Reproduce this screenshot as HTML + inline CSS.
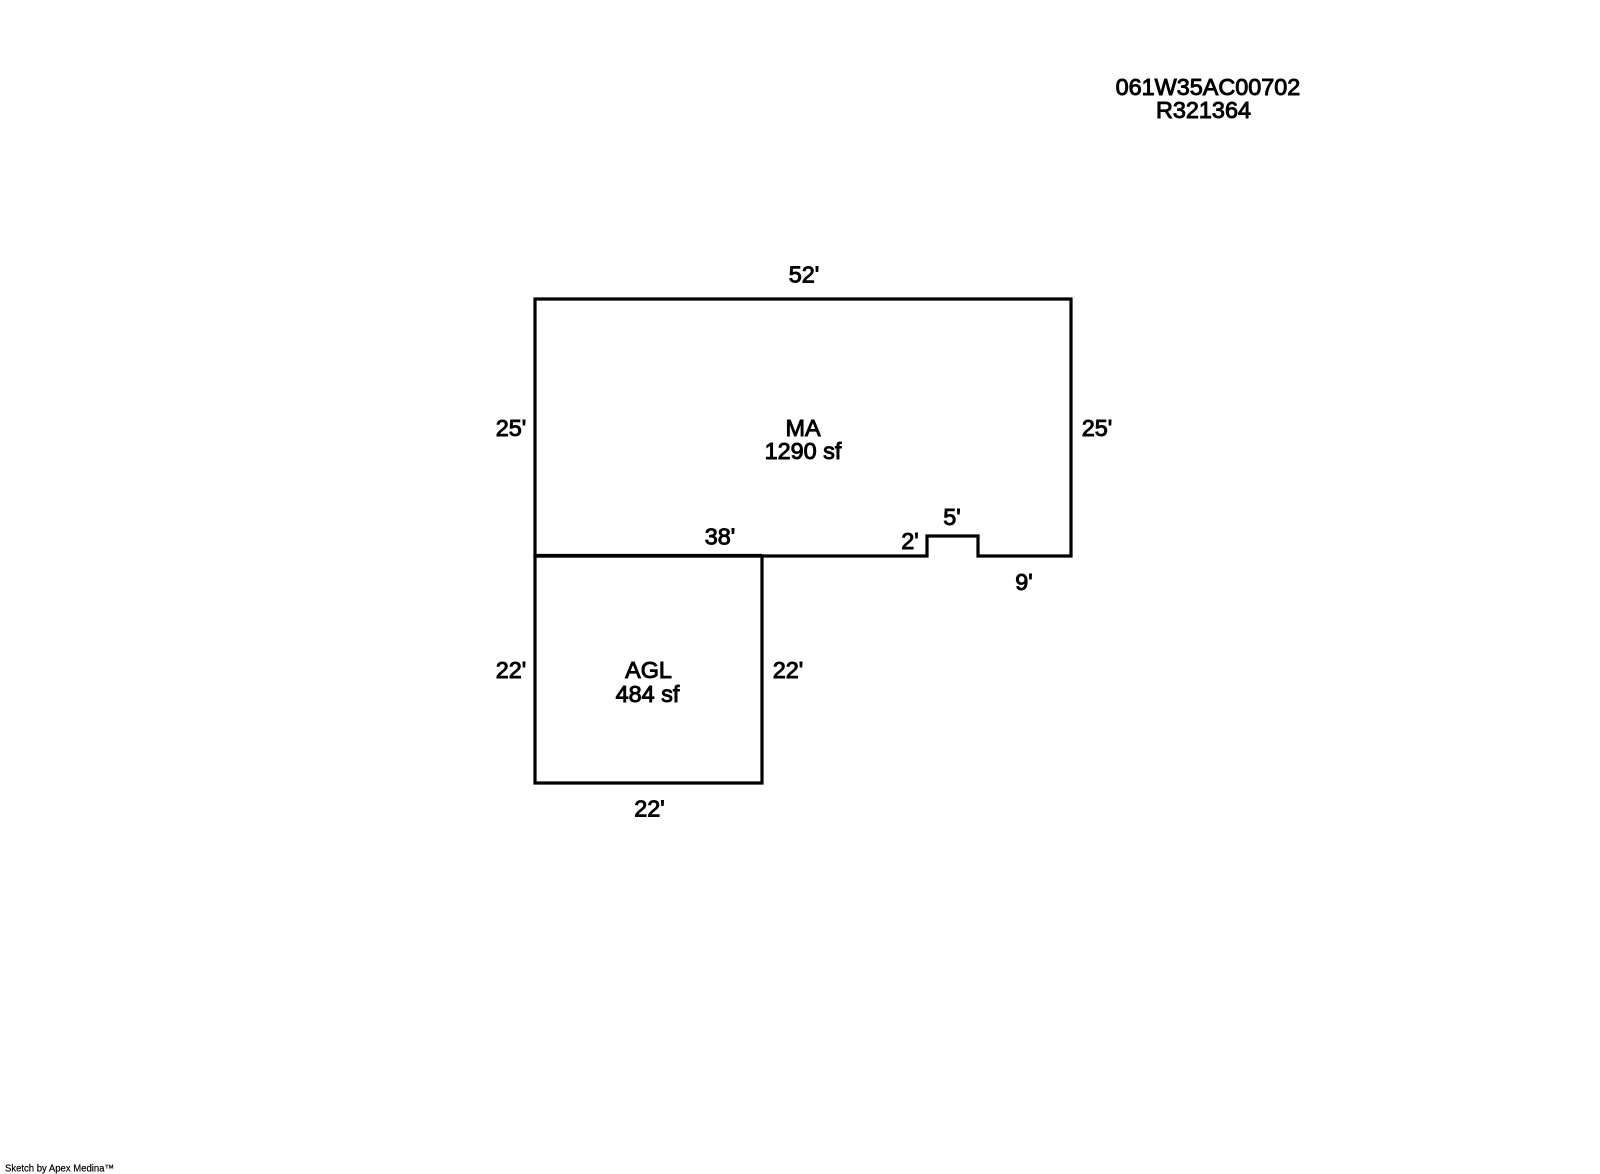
<!DOCTYPE html>
<html>
<head>
<meta charset="utf-8">
<style>
html,body{margin:0;padding:0;background:#fff;width:1600px;height:1174px;overflow:hidden}
svg{display:block}
text{font-family:"Liberation Sans",Arial,sans-serif;fill:#000;stroke:#000;stroke-width:.95px;font-size:23.4px;text-anchor:middle}
.f{font-size:10px;stroke-width:.2px;text-anchor:start}
path{fill:none;stroke:#000;stroke-width:3.2;stroke-linejoin:miter}
</style>
</head>
<body>
<svg width="1600" height="1174" viewBox="0 0 1600 1174" xmlns="http://www.w3.org/2000/svg">
<rect width="1600" height="1174" fill="#fff"/>
<path d="M535 299H1071V556H978V536H927V556H535Z"/>
<path d="M535 556H762V783H535Z"/>
<path d="M535 555.500H762"/>
<text x="1208" y="95">061W35AC00702</text>
<text x="1203.500" y="118">R321364</text>
<text x="804" y="282.500">52'</text>
<text x="511" y="436">25'</text>
<text x="1097" y="436">25'</text>
<text x="803" y="436">MA</text>
<text x="803" y="459">1290 sf</text>
<text x="720" y="544.500">38'</text>
<text x="910" y="549">2'</text>
<text x="952" y="525">5'</text>
<text x="1024" y="590">9'</text>
<text x="511" y="678">22'</text>
<text x="788" y="678">22'</text>
<text x="648.500" y="678">AGL</text>
<text x="647.500" y="702">484 sf</text>
<text x="649.500" y="816.500">22'</text>
<text class="f" x="5" y="1171.500" textLength="109" lengthAdjust="spacingAndGlyphs">Sketch by Apex Medina™</text>
</svg>
</body>
</html>
